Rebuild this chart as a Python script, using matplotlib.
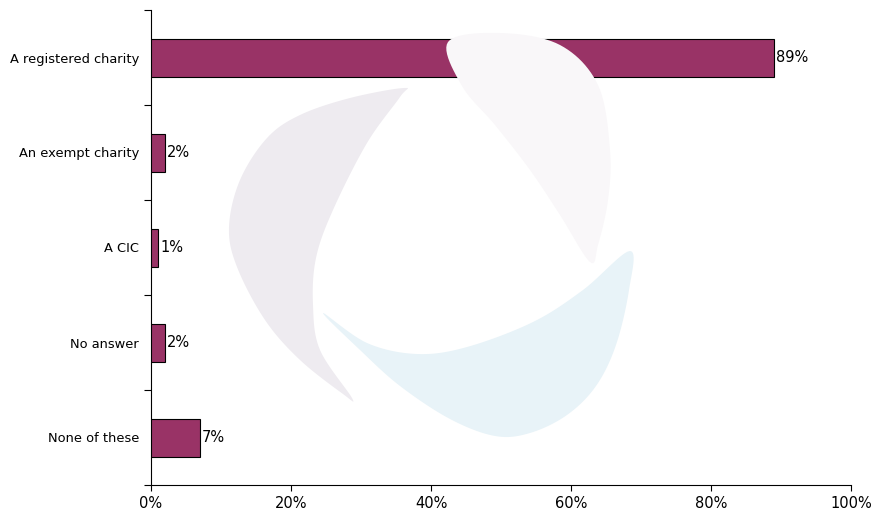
import numpy as np
import matplotlib.pyplot as plt
from matplotlib.patches import Polygon

categories = ['A registered charity', 'An exempt charity', 'A CIC',
              'No answer', 'None of these']
values = [89, 2, 1, 2, 7]
xticks = [0, 20, 40, 60, 80, 100]
xtick_labels = ['0%', '20%', '40%', '60%', '80%', '100%']

W, H = 871, 515


def smooth(pts, n=12):
    # closed catmull-rom through the given pixel points
    p = np.array(pts, dtype=float)
    m = len(p)
    out = []
    for i in range(m):
        p0, p1, p2, p3 = p[i - 1], p[i], p[(i + 1) % m], p[(i + 2) % m]
        for t in np.linspace(0, 1, n, endpoint=False):
            t2, t3 = t * t, t * t * t
            out.append(0.5 * ((2 * p1) + (-p0 + p2) * t
                              + (2 * p0 - 5 * p1 + 4 * p2 - p3) * t2
                              + (-p0 + 3 * p1 - 3 * p2 + p3) * t3))
    out = np.array(out)
    out[:, 1] = H - out[:, 1]
    return out


# background logo swooshes (pixel positions, y measured from top)
swooshes = [
    ('#eeebf0', [(404, 88), (350, 98), (300, 115), (267, 138), (240, 180),
                 (229, 227), (237, 267), (265, 320), (300, 360), (343, 394),
                 (352, 398), (320, 350), (313, 305), (316, 258), (333, 210),
                 (367, 143), (400, 97)]),
    ('#f9f7f9', [(448, 42), (500, 33), (560, 45), (598, 85), (610, 150),
                 (608, 200), (598, 245), (590, 262), (560, 215), (530, 170),
                 (495, 125), (462, 86)]),
    ('#e8f3f8', [(323, 313), (367, 343), (417, 354), (467, 347), (533, 322),
                 (583, 290), (630, 251), (629, 290), (616, 345), (596, 386),
                 (567, 415), (530, 433), (495, 436), (450, 419), (400, 386),
                 (360, 350)]),
]

fig = plt.figure(figsize=(W / 100, H / 100), dpi=100)
for color, pts in swooshes:
    fig.patches.append(Polygon(smooth(pts), closed=True, transform=None,
                               facecolor=color, edgecolor='none', zorder=0))

ax = fig.add_axes([151 / W, 30 / H, 700 / W, 475 / H])
ax.patch.set_visible(False)

y = np.arange(len(categories))
ax.barh(y, values, height=0.4, color='#993366', edgecolor='black',
        linewidth=0.8, zorder=3)
for yi, v in zip(y, values):
    ax.text(v + 0.3, yi, f'{v}%', va='center', ha='left', fontsize=10.5)

ax.set_xlim(0, 100)
ax.set_ylim(len(categories) - 0.5, -0.5)

ax.set_xticks(xticks)
ax.set_xticklabels(xtick_labels, fontsize=10.5)
ax.tick_params(axis='x', direction='out', length=4, width=0.8, pad=4)

# boundary ticks on the y axis, labels centred between them
ax.set_yticks(np.arange(-0.5, len(categories), 1.0))
ax.set_yticklabels([])
ax.set_yticks(y, minor=True)
ax.set_yticklabels(categories, minor=True, fontsize=9.4)
ax.tick_params(axis='y', which='major', direction='out', length=5, width=0.8)
ax.tick_params(axis='y', which='minor', length=0, pad=8.5)

for side in ['top', 'right']:
    ax.spines[side].set_visible(False)
for side in ['left', 'bottom']:
    ax.spines[side].set_linewidth(0.8)

fig.savefig('out.png', dpi=100)
